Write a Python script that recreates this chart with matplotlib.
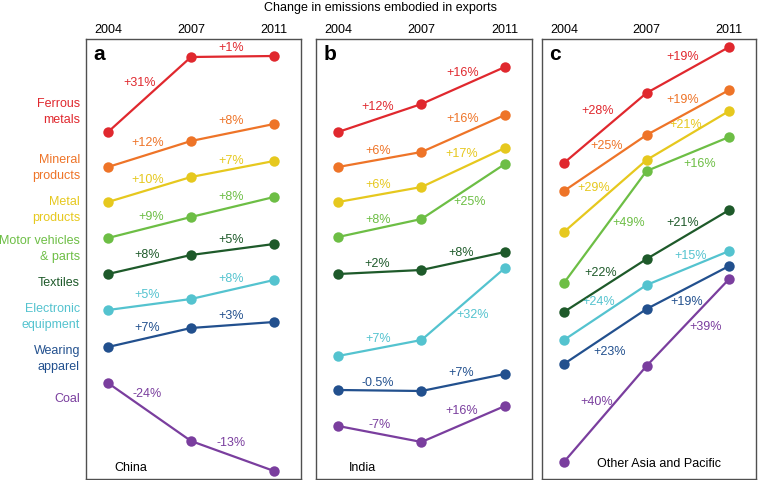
#!/usr/bin/env python

import matplotlib
matplotlib.use('Agg')
import matplotlib.pyplot as plt
from matplotlib.transforms import blended_transform_factory

years = ['2004', '2007', '2011']
sectors = ['Ferrous\nmetals', 'Mineral\nproducts', 'Metal\nproducts', 'Motor vehicles\n& parts',
           'Textiles', 'Electronic\nequipment', 'Wearing\napparel', 'Coal']
regions = ['China', 'India', 'Other Asia and Pacific']
panel_letters = ['a', 'b', 'c']

# relative level of embodied emissions (chart units), one row per sector
china_levels = [[348, 423, 424], [313, 339, 356], [278, 303, 319], [242, 263, 283],
                [206, 225, 236], [170, 181, 200], [133, 152, 158], [97, 39, 9]]
india_levels = [[348, 376, 413], [313, 328, 365], [278, 293, 332], [243, 261, 316],
                [206, 210, 228], [124, 140, 212], [90, 89, 106], [54, 38, 74]]
asia_levels = [[317, 387, 433], [289, 345, 390], [248, 320, 369], [197, 309, 343],
               [168, 221, 270], [140, 195, 229], [116, 171, 214], [18, 114, 201]]

china_changes = [['+31%', '+1%'], ['+12%', '+8%'], ['+10%', '+7%'], ['+9%', '+8%'],
                 ['+8%', '+5%'], ['+5%', '+8%'], ['+7%', '+3%'], ['-24%', '-13%']]
india_changes = [['+12%', '+16%'], ['+6%', '+16%'], ['+6%', '+17%'], ['+8%', '+25%'],
                 ['+2%', '+8%'], ['+7%', '+32%'], ['-0.5%', '+7%'], ['-7%', '+16%']]
asia_changes = [['+28%', '+19%'], ['+25%', '+19%'], ['+29%', '+21%'], ['+49%', '+16%'],
                ['+22%', '+21%'], ['+24%', '+15%'], ['+23%', '+19%'], ['+40%', '+39%']]

colors = ['#E0282E', '#EE7428', '#E6C81E', '#6DBE45', '#1E5A2A', '#54C3CF', '#22508E', '#7A3E9E']

# label offsets from segment midpoints, in pixels (dx, dy up)
china_offsets = [[(-10, 11.5), (-1, 8.5)], [(-2, 11), (-1, 11.5)], [(-2, 9.5), (-1, 8)],
                 [(2, 10.5), (-1, 10)], [(-2, 9.5), (-1, 9.5)], [(-2, 9.5), (-1, 10.5)],
                 [(-2, 9.5), (-1, 9)], [(-2, 18), (-1, 13)]]
india_offsets = [[(-2, 11), (-1, 12.5)], [(-2, 8.5), (-1, 14.5)], [(-2, 9.5), (-2, 13.5)],
                 [(-2, 8), (6, -10.5)], [(-3, 8), (-2, 8)], [(-2, 9), (9, -11)],
                 [(-2, 7.5), (-2, 9.5)], [(0, 9), (-2, 13)]]
asia_offsets = [[(-7.5, 17), (-5, 13)], [(1.5, 17), (-5, 12.5)], [(-12, 8), (-2, 10.5)],
                [(23.5, 4), (12, -10)], [(-4.5, 12.5), (-5, 11.5)], [(-6.5, 10.5), (3, 12)],
                [(4.5, -15.5), (-1, -14.5)], [(-8.5, 12), (18, -4.5)]]

sector_label_y = [368, 312, 270, 231, 197, 163, 121, 81]

plt.rcParams['font.family'] = ['Liberation Sans', 'DejaVu Sans']

fig = plt.figure(figsize=(7.58, 4.80), dpi=100)

panel_lefts = [86, 316, 542]
panel_widths = [215, 216, 214]
px = 0.72  # points per pixel

all_levels = [china_levels, india_levels, asia_levels]
all_changes = [china_changes, india_changes, asia_changes]
all_offsets = [china_offsets, india_offsets, asia_offsets]

axes = []
for p in range(3):
    ax = fig.add_axes([panel_lefts[p] / 758, 1 / 480, panel_widths[p] / 758, 440 / 480])
    axes.append(ax)
    xs = list(range(len(years)))
    for s in range(len(sectors)):
        lv = all_levels[p][s]
        ax.plot(xs, lv, color=colors[s], lw=1.6, marker='o', ms=7.5, mec='none', zorder=3)
        for k in range(2):
            mx = (xs[k] + xs[k + 1]) / 2
            my = (lv[k] + lv[k + 1]) / 2
            dx, dy = all_offsets[p][s][k]
            ax.annotate(all_changes[p][s][k], (mx, my), xytext=(dx * px, dy * px),
                        textcoords='offset points', ha='center', va='center',
                        color=colors[s], fontsize=9, zorder=4)
    ax.set_xlim(-0.265, 2.325)
    ax.set_ylim(1, 441)
    ax.set_yticks([])
    ax.set_xticks(xs)
    ax.set_xticklabels(years, fontsize=9)
    ax.xaxis.tick_top()
    ax.tick_params(axis='x', length=0, pad=2)
    for spine in ax.spines.values():
        spine.set_color('#505050')
        spine.set_linewidth(1.0)
    ax.text(0.033, 0.964, panel_letters[p], transform=ax.transAxes, fontsize=15,
            fontweight='bold', ha='left', va='center')

axes[0].text(0.13, 0.025, regions[0], transform=axes[0].transAxes, fontsize=9, ha='left', va='center')
axes[1].text(0.153, 0.025, regions[1], transform=axes[1].transAxes, fontsize=9, ha='left', va='center')
axes[2].text(0.257, 0.034, regions[2], transform=axes[2].transAxes, fontsize=9, ha='left', va='center')

trans = blended_transform_factory(axes[0].transAxes, axes[0].transData)
for s in range(len(sectors)):
    axes[0].text(-0.028, sector_label_y[s], sectors[s], transform=trans, ha='right', va='center',
                 color=colors[s], fontsize=9, linespacing=1.35)

fig.text(380 / 758, 1 - 8 / 480, 'Change in emissions embodied in exports', ha='center', va='center',
         fontsize=9)

plt.savefig('out.png', dpi=100)
plt.close()
